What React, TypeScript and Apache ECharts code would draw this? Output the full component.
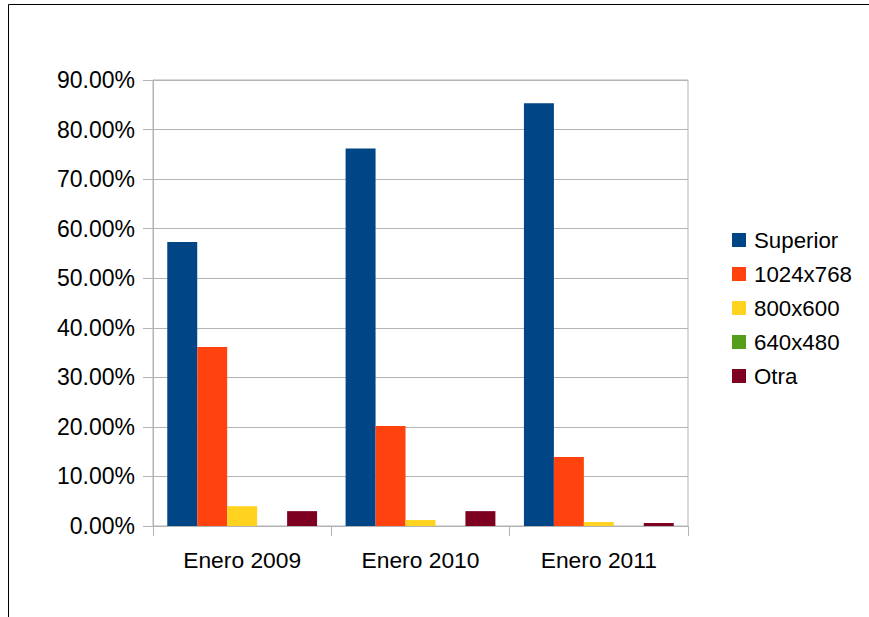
import React, { useEffect, useRef } from "react";
import * as echarts from "echarts";

// Screen resolution share by period (percent)
const periods = ["Enero 2009", "Enero 2010", "Enero 2011"];
const seriesNames = ["Superior", "1024x768", "800x600", "640x480", "Otra"];
const superior = [57.3, 76.2, 85.3];
const res1024 = [36.1, 20.2, 13.9];
const res800 = [4.0, 1.2, 0.8];
const res640 = [0, 0, 0];
const otra = [3.0, 3.0, 0.6];
const colors = ["#004586", "#ff420e", "#ffd320", "#579d1c", "#7e0021"];

const yMin = 0;
const yMax = 90;
const yStep = 10;

const FONT = "'Liberation Sans', Arial, sans-serif";

export default function App() {
  const ref = useRef<HTMLDivElement>(null);

  useEffect(() => {
    if (!ref.current) return;
    const chart = echarts.init(ref.current, null, { renderer: "svg" });
    const values = [superior, res1024, res800, res640, otra];

    chart.setOption({
      animation: false,
      backgroundColor: "#ffffff",
      color: colors,
      textStyle: { fontFamily: FONT },
      graphic: [
        {
          type: "rect",
          shape: { x: 8.5, y: 4.5, width: 900, height: 700 },
          style: { fill: "none", stroke: "#000000", lineWidth: 1 },
          silent: true,
        },
      ],
      grid: {
        left: 153,
        right: 181,
        top: 80,
        bottom: 91,
        show: true,
        borderColor: "#b3b3b3",
        borderWidth: 1,
        backgroundColor: "transparent",
      },
      legend: {
        orient: "vertical",
        left: 732,
        top: 228,
        padding: 0,
        itemWidth: 14,
        itemHeight: 14,
        itemGap: 10,
        icon: "rect",
        data: seriesNames,
        textStyle: {
          fontFamily: FONT,
          fontSize: 22.3,
          color: "#000000",
          lineHeight: 24,
          padding: [0, 0, 0, 3],
        },
      },
      xAxis: {
        type: "category",
        data: periods,
        axisLine: { show: true, lineStyle: { color: "#b3b3b3", width: 1 } },
        axisTick: {
          show: true,
          length: 10,
          alignWithLabel: false,
          lineStyle: { color: "#b3b3b3" },
        },
        axisLabel: {
          margin: 22,
          fontFamily: FONT,
          fontSize: 22.8,
          color: "#000000",
        },
      },
      yAxis: {
        type: "value",
        min: yMin,
        max: yMax,
        interval: yStep,
        axisLine: { show: true, lineStyle: { color: "#b3b3b3", width: 1 } },
        axisTick: { show: true, length: 10, lineStyle: { color: "#b3b3b3" } },
        splitLine: { show: true, lineStyle: { color: "#b3b3b3", width: 1 } },
        axisLabel: {
          margin: 18,
          fontFamily: FONT,
          fontSize: 23,
          color: "#000000",
          formatter: (v: number) => v.toFixed(2) + "%",
        },
      },
      series: seriesNames.map((name, i) => ({
        name,
        type: "bar",
        data: values[i],
        barGap: "0%",
        barCategoryGap: "16%",
        itemStyle: { color: colors[i] },
      })),
    });

    return () => chart.dispose();
  }, []);

  return (
    <div
      ref={ref}
      style={{
        position: "fixed",
        left: 0,
        top: 0,
        width: 869,
        height: 617,
        background: "#ffffff",
      }}
    />
  );
}
